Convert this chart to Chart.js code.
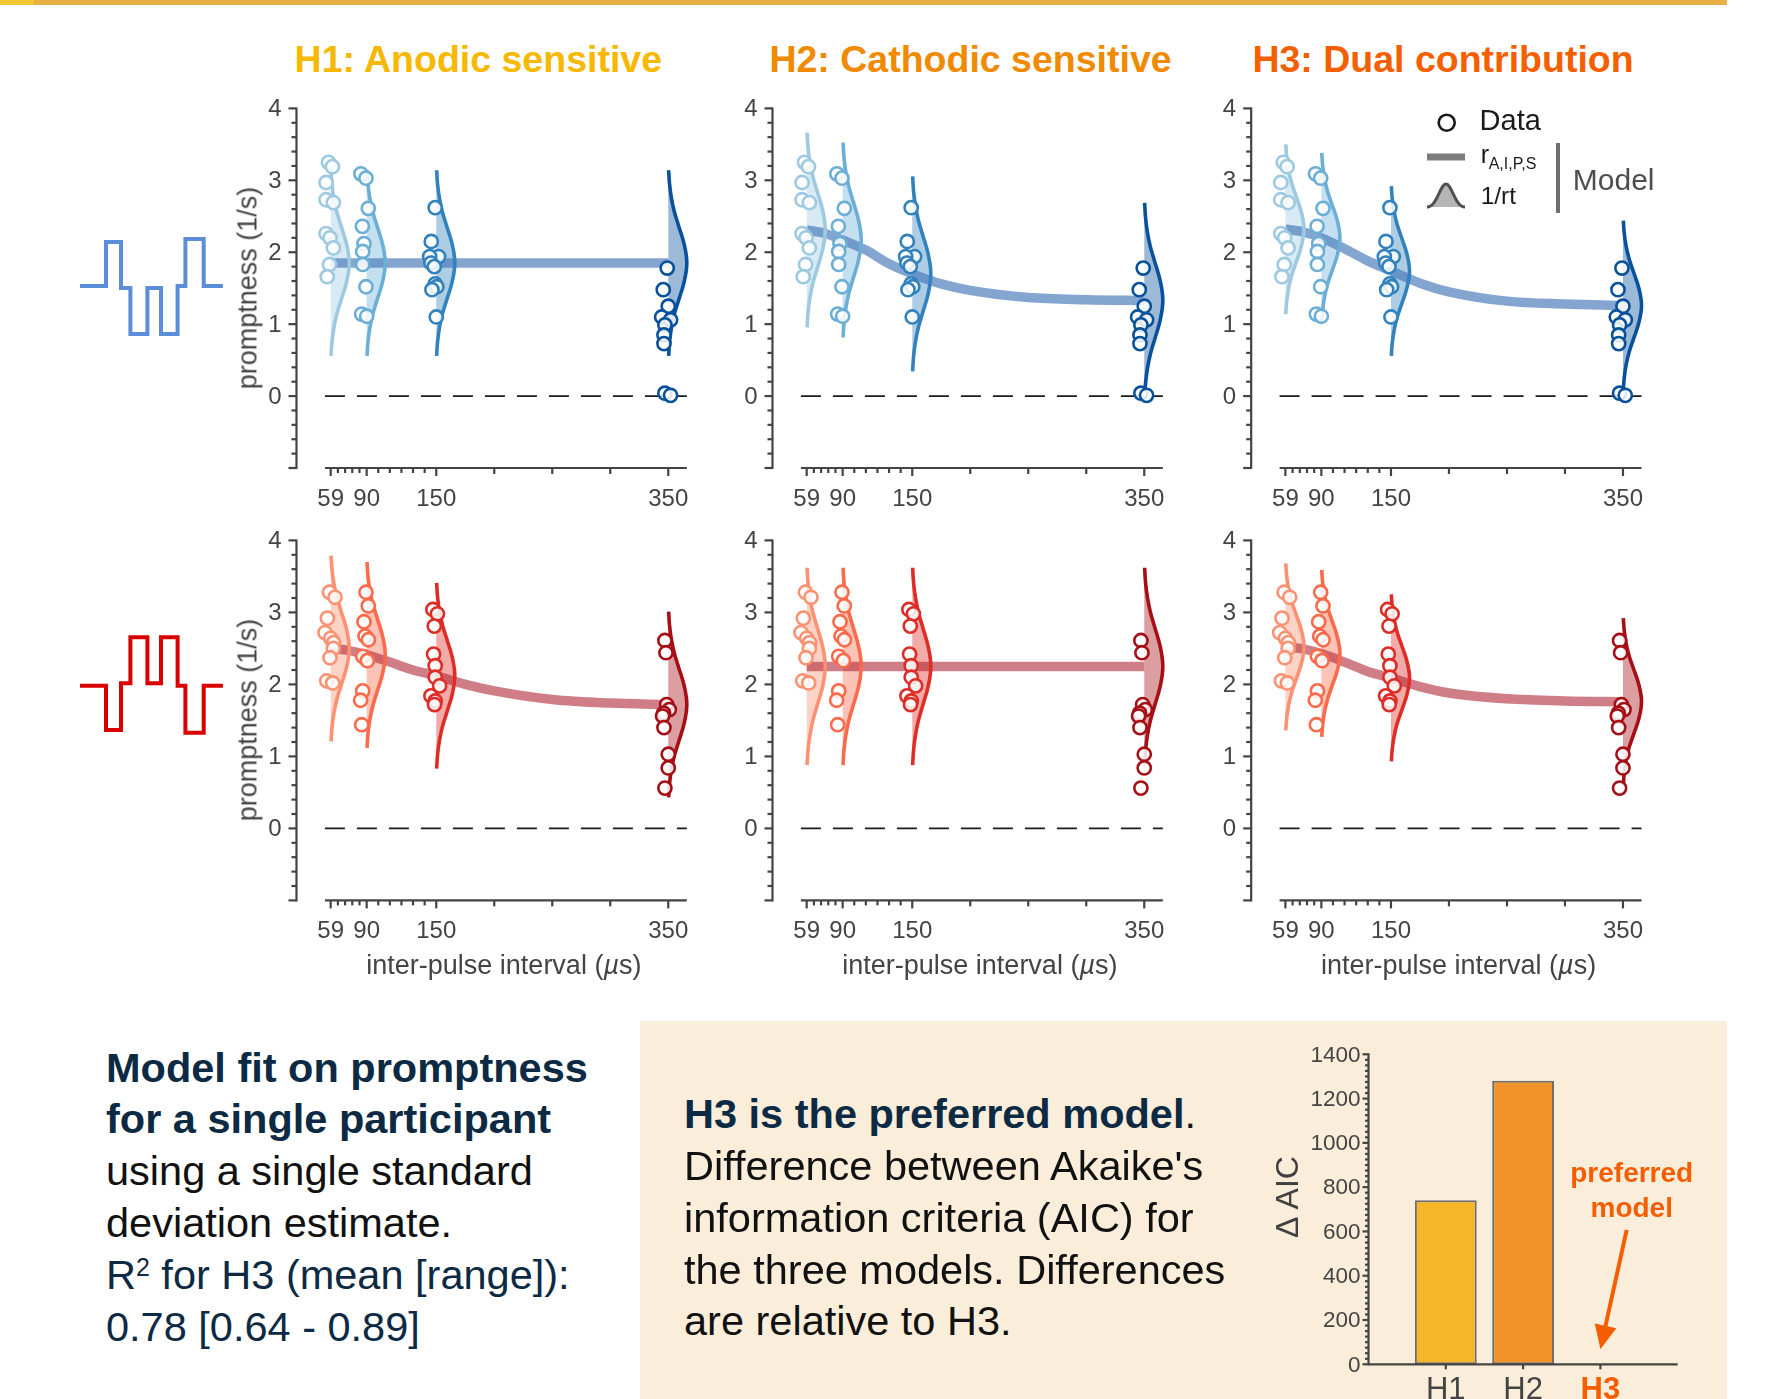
<!DOCTYPE html>
<html>
<head>
<meta charset="utf-8">
<title>Model fit on promptness</title>
<script src="https://cdn.jsdelivr.net/npm/chart.js@4.4.1/dist/chart.umd.min.js"></script>
<style>
  body { margin: 0; background: #fff; }
  #page { position: relative; width: 1773px; height: 1399px; overflow: hidden; background: #fff;
          font-family: "Liberation Sans", Arial, Helvetica, sans-serif; }
  .abs { position: absolute; white-space: nowrap; line-height: 1; }
  canvas { position: absolute; }
</style>
</head>
<body>
<div id="page">
  <div class="abs" style="left:0;top:0;width:1727px;height:5px;background:#E8B043"></div>
  <div class="abs" style="left:0;top:0;width:34px;height:5px;background:#F2C830"></div>
  <div class="abs" style="left:640px;top:1021px;width:1087px;height:378px;background:#FAEEDA"></div>

  <!-- stimulus waveforms -->
  <svg class="abs" style="left:0;top:0" width="260" height="1000">
    <polyline fill="none" stroke="#5B8DD9" stroke-width="4"
      points="80,286 106,286 106,242 121,242 121,288 130.4,288 130.4,334 147.4,334 147.4,288 161,288 161,334 177.6,334 177.6,286 185.4,286 185.4,239 203.7,239 203.7,286 222.9,286"/>
    <polyline fill="none" stroke="#D90000" stroke-width="4"
      points="80,685.7 106,685.7 106,730 121,730 121,683.3 130.4,683.3 130.4,637.3 147.4,637.3 147.4,683.3 161,683.3 161,637.3 177.6,637.3 177.6,685.7 185.4,685.7 185.4,732.7 203.7,732.7 203.7,685.7 222.9,685.7"/>
  </svg>

  <!-- legend icons -->
  <svg class="abs" style="left:1400px;top:100px" width="80" height="120">
    <circle cx="46.7" cy="22.7" r="8" fill="none" stroke="#1a1a1a" stroke-width="2.6"/>
    <line x1="27" y1="57" x2="65" y2="57" stroke="#7d7d7d" stroke-width="7"/>
    <path d="M27,107 C37,107 40,84 46,84 C52,84 55,107 65,107 Z" fill="#b5b5b5"/>
    <path d="M27,107 C37,107 40,84 46,84 C52,84 55,107 65,107" fill="none" stroke="#505050" stroke-width="3"/>
  </svg>
  <div class="abs" style="left:1556.2px;top:143.3px;width:4px;height:70px;background:#6e6e6e"></div>
</div>

<script>
// ---------------- data ----------------
const ipis = [59, 90, 150, 350];
const hypothesisTitles = ['H1: Anodic sensitive', 'H2: Cathodic sensitive', 'H3: Dual contribution'];
const xTickValues = [59, 65.2, 71.4, 77.6, 83.8, 90, 100, 110, 120, 130, 140, 150, 200, 250, 300, 350];
const xTickLabels = ['59', '', '', '', '', '90', '', '', '', '', '', '150', '', '', '', '350'];
const yTickValues = [0, 1, 2, 3, 4];
const yTickLabels = ['0', '1', '2', '3', '4'];

// measured promptness (1/s), blue row; one list per inter-pulse interval
const blueDataX = [
  [57.1, 60.5, 55, 55, 61.3, 55, 58.4, 61.3, 58, 56],
  [85, 89.4, 91.4, 86.3, 87.7, 86.6, 86.6, 89.4, 85.7, 90],
  [149.1, 145.7, 152, 144.3, 145.4, 148.3, 149.1, 150.5, 146.3, 150],
  [349.1, 345.7, 350, 344.3, 352, 347.1, 346.3, 346.3, 347.1, 352]
];
const blueDataY = [
  [3.25, 3.19, 2.97, 2.73, 2.69, 2.26, 2.20, 2.06, 1.83, 1.66],
  [3.09, 3.03, 2.61, 2.36, 2.12, 2.01, 1.83, 1.52, 1.14, 1.11],
  [2.62, 2.15, 1.94, 1.94, 1.85, 1.80, 1.56, 1.52, 1.48, 1.10],
  [1.78, 1.48, 1.25, 1.10, 1.06, 0.99, 0.85, 0.73, 0.04, 0.01]
];
// measured promptness (1/s), red row
const redDataX = [
  [57.9, 62.7, 56.1, 54.1, 59, 61.5, 61.3, 58.4, 55.6, 60.7],
  [89.4, 91.4, 87.7, 88.6, 91.5, 86.6, 90.6, 86.6, 84.8, 85.7],
  [147.1, 151, 148.3, 147.7, 149.1, 149.1, 152.9, 145.4, 149.1, 148.5],
  [347.1, 348, 348.6, 350.9, 346, 345.1, 346.3, 350, 350, 347.1]
];
const redDataY = [
  [3.28, 3.21, 2.92, 2.72, 2.64, 2.58, 2.50, 2.37, 2.05, 2.02],
  [3.28, 3.09, 2.87, 2.67, 2.62, 2.39, 2.33, 1.91, 1.78, 1.44],
  [3.04, 2.98, 2.81, 2.42, 2.26, 2.10, 1.98, 1.84, 1.77, 1.72],
  [2.61, 2.44, 1.72, 1.65, 1.60, 1.56, 1.40, 1.03, 0.84, 0.56]
];

// model rate r(IPI)
const modelX = [59, 75, 90, 110, 130, 150, 175, 200, 250, 300, 350];
const blueModelH1 = [1.85, 1.85, 1.85, 1.85, 1.85, 1.85, 1.85, 1.85, 1.85, 1.85, 1.85];
const blueModelH2 = [2.31, 2.26, 2.17, 2.03, 1.84, 1.70, 1.56, 1.47, 1.37, 1.34, 1.33];
const blueModelH3 = [2.32, 2.28, 2.20, 2.05, 1.88, 1.74, 1.57, 1.45, 1.32, 1.28, 1.26];
const redModelH1 = [2.50, 2.47, 2.41, 2.31, 2.20, 2.12, 2.00, 1.91, 1.79, 1.74, 1.72];
const redModelH2 = [2.25, 2.25, 2.25, 2.25, 2.25, 2.25, 2.25, 2.25, 2.25, 2.25, 2.25];
const redModelH3 = [2.52, 2.49, 2.43, 2.31, 2.18, 2.09, 1.97, 1.88, 1.80, 1.77, 1.76];

// 1/rt densities: peak per interval and half extent per model
const blueViolinMu = [[1.85, 1.85, 1.85, 1.85], [2.31, 2.17, 1.70, 1.33], [2.32, 2.20, 1.74, 1.26]];
const blueViolinHalf = [1.29, 1.355, 1.18];
const redViolinMu = [[2.50, 2.41, 2.12, 1.72], [2.25, 2.25, 2.25, 2.25], [2.52, 2.43, 2.09, 1.76]];
const redViolinHalf = [1.29, 1.37, 1.16];
// density outline (relative height, relative width)
const violinFrac = [-1, -0.85, -0.7, -0.55, -0.4, -0.2, 0, 0.2, 0.4, 0.55, 0.7, 0.85, 1];
const violinProfile = [0.02, 0.07, 0.17, 0.33, 0.56, 0.86, 1, 0.86, 0.56, 0.33, 0.17, 0.07, 0.02];

// AIC difference relative to H3
const aicModels = ['H1', 'H2', 'H3'];
const aicValues = [741, 1281, 0];
const aicTicks = [0, 200, 400, 600, 800, 1000, 1200, 1400];

// ---------------- layout / style ----------------
const blueColors = ['#9ECAE1', '#6BAED6', '#3182BD', '#08519C'];
const redColors = ['#FC9272', '#FB6A4A', '#DE2D26', '#A50F15'];
const titleColors = ['#F6B800', '#F08A00', '#F45F00'];
const axisColor = '#444';
const xRange = [29.5, 367];
const yRange = [-1, 4];
const xAxisSpan = [54, 366];
const pxPerUnit = 1.16;
const violinWidth = 16;
const pos59 = [330.7, 806.7, 1285.4];
const rowTop = [108.4, 540.4];
const rowBottom = [468, 900.4];
const fontFamily = '"Liberation Sans", Arial, Helvetica, sans-serif';
const orange = '#F55D00';

Chart.defaults.font.family = fontFamily;

function rgba(hex, a) {
  const n = parseInt(hex.slice(1), 16);
  return `rgba(${n >> 16},${(n >> 8) & 255},${n & 255},${a})`;
}

function strokeLine(ctx, x1, y1, x2, y2) {
  ctx.beginPath(); ctx.moveTo(x1, y1); ctx.lineTo(x2, y2); ctx.stroke();
}

// MATLAB-like offset axes drawn from the chart's own scales
const axesPlugin = {
  id: 'axesPlugin',
  afterDatasetsDraw(chart, args, opts) {
    const ctx = chart.ctx, xs = chart.scales.x, ys = chart.scales.y;
    ctx.save();
    ctx.strokeStyle = axisColor;
    ctx.fillStyle = axisColor;
    ctx.lineWidth = 2.2;
    if (opts.kind === 'panel') {
      const ax = xs.getPixelForValue(xRange[0]);
      strokeLine(ctx, ax, ys.getPixelForValue(yRange[1]) - 1, ax, ys.getPixelForValue(yRange[0]) + 1);
      for (let k = yRange[0] * 5; k <= yRange[1] * 5; k++) {
        const py = ys.getPixelForValue(k / 5);
        strokeLine(ctx, ax - (k % 5 === 0 ? 8 : 5), py, ax, py);
      }
      ctx.font = '24px ' + fontFamily;
      ctx.textAlign = 'right';
      ctx.textBaseline = 'middle';
      yTickValues.forEach((v, i) => ctx.fillText(yTickLabels[i], ax - 15, ys.getPixelForValue(v) + 1));
      const by = ys.getPixelForValue(yRange[0]);
      strokeLine(ctx, xs.getPixelForValue(xAxisSpan[0]), by, xs.getPixelForValue(xAxisSpan[1]), by);
      ctx.textAlign = 'center';
      xTickValues.forEach((v, i) => {
        const px = xs.getPixelForValue(v);
        const len = xTickLabels[i] ? 8 : (v >= 200 ? 6 : 5);
        strokeLine(ctx, px, by, px, by + len);
        if (xTickLabels[i]) ctx.fillText(xTickLabels[i], px, by + 31);
      });
    } else if (opts.kind === 'bar') {
      const ax = xs.getPixelForValue(0);
      const y0 = ys.getPixelForValue(0);
      strokeLine(ctx, ax, ys.getPixelForValue(1400) - 1, ax, y0 + 1);
      for (let v = 0; v <= 1400; v += 25) {
        const py = ys.getPixelForValue(v);
        strokeLine(ctx, ax - (v % 200 === 0 ? 6 : 3.5), py, ax, py);
      }
      ctx.font = '22.5px ' + fontFamily;
      ctx.textAlign = 'right';
      ctx.textBaseline = 'middle';
      aicTicks.forEach(v => ctx.fillText(String(v), ax - 8, ys.getPixelForValue(v) + 1));
      strokeLine(ctx, ax, y0, xs.getPixelForValue(4), y0);
      ctx.textAlign = 'center';
      ctx.textBaseline = 'alphabetic';
      aicModels.forEach((m, i) => {
        const px = xs.getPixelForValue(i + 1);
        strokeLine(ctx, px, y0, px, y0 + 5);
        const best = i === aicModels.length - 1;
        ctx.fillStyle = best ? orange : axisColor;
        ctx.font = (best ? 'bold ' : '') + '31px ' + fontFamily;
        ctx.fillText(m, px, y0 + 35);
      });
      // "preferred model" note and arrow
      ctx.fillStyle = orange;
      ctx.strokeStyle = orange;
      ctx.font = 'bold 28px ' + fontFamily;
      ctx.fillText('preferred', xs.getPixelForValue(3.405), ys.getPixelForValue(825));
      ctx.fillText('model', xs.getPixelForValue(3.405), ys.getPixelForValue(667));
      const x1 = xs.getPixelForValue(3.34), y1 = ys.getPixelForValue(607);
      const x2 = xs.getPixelForValue(3.0), y2 = ys.getPixelForValue(68);
      const ang = Math.atan2(y2 - y1, x2 - x1);
      ctx.lineWidth = 4;
      strokeLine(ctx, x1, y1, x2 - 18 * Math.cos(ang), y2 - 18 * Math.sin(ang));
      ctx.beginPath();
      ctx.moveTo(x2, y2);
      ctx.lineTo(x2 - 24 * Math.cos(ang) + 11 * Math.sin(ang), y2 - 24 * Math.sin(ang) - 11 * Math.cos(ang));
      ctx.lineTo(x2 - 24 * Math.cos(ang) - 11 * Math.sin(ang), y2 - 24 * Math.sin(ang) + 11 * Math.cos(ang));
      ctx.closePath();
      ctx.fill();
    }
    ctx.restore();
  }
};

const page = document.getElementById('page');

function addText(html, o) {
  const d = document.createElement('div');
  d.className = 'abs';
  d.innerHTML = html;
  d.style.fontSize = o.size + 'px';
  d.style.fontWeight = o.weight || 'normal';
  d.style.color = o.color || '#111';
  if (o.rotate) {
    d.style.left = o.x + 'px';
    d.style.top = o.y + 'px';
    d.style.transform = 'translate(-50%,-50%) rotate(-90deg)';
  } else {
    d.style.left = o.x + 'px';
    d.style.top = (o.baseline - 0.8465 * o.size) + 'px';
    if (o.align === 'center') d.style.transform = 'translateX(-50%)';
  }
  page.appendChild(d);
  return d;
}

function addCanvas(left, top, w, h) {
  const c = document.createElement('canvas');
  c.width = w; c.height = h;
  c.style.left = left + 'px';
  c.style.top = top + 'px';
  c.style.width = w + 'px';
  c.style.height = h + 'px';
  page.appendChild(c);
  return c;
}

function violinPoints(ipi, mu, half) {
  return violinFrac.map((f, i) => ({ x: ipi + violinProfile[i] * violinWidth, y: mu + f * half }));
}

function panelDatasets(row, hyp) {
  const colors = row === 0 ? blueColors : redColors;
  const dataX = row === 0 ? blueDataX : redDataX;
  const dataY = row === 0 ? blueDataY : redDataY;
  const model = row === 0 ? [blueModelH1, blueModelH2, blueModelH3][hyp] : [redModelH1, redModelH2, redModelH3][hyp];
  const mus = (row === 0 ? blueViolinMu : redViolinMu)[hyp];
  const half = (row === 0 ? blueViolinHalf : redViolinHalf)[hyp];
  const band = row === 0 ? 'rgba(72,122,186,0.68)' : 'rgba(172,32,48,0.58)';
  const ds = [];
  ds.push({
    data: [{ x: xAxisSpan[0], y: 0 }, { x: xAxisSpan[1], y: 0 }],
    borderColor: '#1a1a1a', borderWidth: 1.7, borderDash: [20, 12], pointRadius: 0, order: 6
  });
  ipis.forEach((ipi, g) => {
    const pts = violinPoints(ipi, mus[g], half);
    ds.push({
      data: pts, indexAxis: 'y', fill: { value: ipi }, backgroundColor: rgba(colors[g], 0.4),
      borderWidth: 0, pointRadius: 0, tension: 0.4, order: 5
    });
    ds.push({
      data: pts, indexAxis: 'y', fill: false, borderColor: colors[g], borderWidth: 3.6,
      pointRadius: 0, tension: 0.4, order: 3, clip: false
    });
    ds.push({
      data: dataX[g].map((x, i) => ({ x, y: dataY[g][i] })), showLine: false,
      pointRadius: 6.6, pointBorderWidth: 2.6, pointBackgroundColor: 'rgba(255,255,255,0.85)',
      pointBorderColor: colors[g], order: 1, clip: false
    });
  });
  ds.push({
    data: modelX.map((x, i) => ({ x, y: model[i] })), borderColor: band, borderWidth: 9.5,
    pointRadius: 0, cubicInterpolationMode: 'monotone', order: 4
  });
  return ds;
}

// ---- panels ----
const areaW = (xRange[1] - xRange[0]) * pxPerUnit;
for (let row = 0; row < 2; row++) {
  for (let hyp = 0; hyp < 3; hyp++) {
    const areaLeft = pos59[hyp] - (ipis[0] - xRange[0]) * pxPerUnit;
    const areaH = rowBottom[row] - rowTop[row];
    const cl = Math.floor(areaLeft - 60), ct = Math.floor(rowTop[row] - 20);
    const padL = areaLeft - cl, padT = rowTop[row] - ct;
    const W = Math.ceil(padL + areaW + 25), H = Math.ceil(padT + areaH + 50);
    const canvas = addCanvas(cl, ct, W, H);
    new Chart(canvas, {
      type: 'line',
      data: { datasets: panelDatasets(row, hyp) },
      options: {
        responsive: false, animation: false, devicePixelRatio: 1, events: [],
        layout: { padding: { left: padL, top: padT, right: W - padL - areaW, bottom: H - padT - areaH } },
        scales: {
          x: { type: 'linear', min: xRange[0], max: xRange[1], display: false },
          y: { type: 'linear', min: yRange[0], max: yRange[1], display: false }
        },
        plugins: { legend: { display: false }, tooltip: { enabled: false }, axesPlugin: { kind: 'panel' } }
      },
      plugins: [axesPlugin]
    });
    if (row === 1) {
      const cx = pos59[hyp] + ((xAxisSpan[0] + xAxisSpan[1]) / 2 - ipis[0]) * pxPerUnit;
      addText('inter-pulse interval (<i>µ</i>s)', { x: cx - 2, baseline: 975, size: 27, color: axisColor, align: 'center' });
    }
  }
  addText('promptness (1/s)', { rotate: true, x: 248, y: (rowTop[row] + rowBottom[row]) / 2 - 0.5, size: 27, color: axisColor });
}

// ---- AIC bar chart ----
{
  const area = { left: 1368.5, top: 1054.3, right: 1677.7, bottom: 1364.3 };
  const cl = 1258, ct = 1024, W = 460, H = 400;
  const canvas = addCanvas(cl, ct, W, H);
  new Chart(canvas, {
    type: 'bar',
    data: {
      datasets: [{
        data: aicModels.map((m, i) => ({ x: i + 1, y: aicValues[i] })),
        backgroundColor: ['#F7B52A', '#F2932A', '#F2932A'],
        borderColor: '#6e6e6e', borderWidth: 2, borderSkipped: false,
        barPercentage: 0.8, categoryPercentage: 1
      }]
    },
    options: {
      responsive: false, animation: false, devicePixelRatio: 1, events: [],
      layout: { padding: { left: area.left - cl, top: area.top - ct, right: cl + W - area.right, bottom: ct + H - area.bottom } },
      scales: {
        x: { type: 'linear', min: 0, max: 4, offset: false, display: false },
        y: { type: 'linear', min: 0, max: 1400, display: false }
      },
      plugins: { legend: { display: false }, tooltip: { enabled: false }, axesPlugin: { kind: 'bar' } }
    },
    plugins: [axesPlugin]
  });
  addText('Δ AIC', { rotate: true, x: 1287.2, y: 1196.7, size: 32, color: '#404040' });
}

// ---- titles ----
const titleX = [478.3, 970.5, 1443];
hypothesisTitles.forEach((t, i) => addText(t, { x: titleX[i], baseline: 72.7, size: 37.5, weight: 'bold', color: titleColors[i], align: 'center' }));

// ---- legend text ----
addText('Data', { x: 1479.6, baseline: 130.7, size: 29, color: '#1a1a1a' });
addText('r', { x: 1480.7, baseline: 163.5, size: 25, color: '#1a1a1a' });
addText('A,I,P,S', { x: 1488.7, baseline: 170, size: 16, color: '#1a1a1a' });
addText('1/rt', { x: 1480.7, baseline: 205, size: 24.5, color: '#1a1a1a' });
addText('Model', { x: 1572.8, baseline: 190, size: 30, color: '#4d4d4d' });

// ---- captions ----
const navy = '#0C2A44';
const leftLines = [
  ['Model fit on promptness', 'bold', navy],
  ['for a single participant', 'bold', navy],
  ['using a single standard', 'normal', '#111'],
  ['deviation estimate.', 'normal', '#111'],
  ['R<span style="position:relative;top:-0.5em;font-size:0.6em">2</span> for H3 (mean [range]):', 'normal', navy],
  ['0.78 [0.64 - 0.89]', 'normal', navy]
];
leftLines.forEach((l, i) => addText(l[0], { x: 106, baseline: 1081.7 + i * 51.8, size: 41.5, weight: l[1], color: l[2] }));
const rightLines = [
  '<b style="color:' + navy + '">H3 is the preferred model</b>.',
  'Difference between Akaike\'s',
  'information criteria (AIC) for',
  'the three models. Differences',
  'are relative to H3.'
];
rightLines.forEach((l, i) => addText(l, { x: 684, baseline: 1128.3 + i * 51.8, size: 41.5, color: '#111' }));
</script>
</body>
</html>
